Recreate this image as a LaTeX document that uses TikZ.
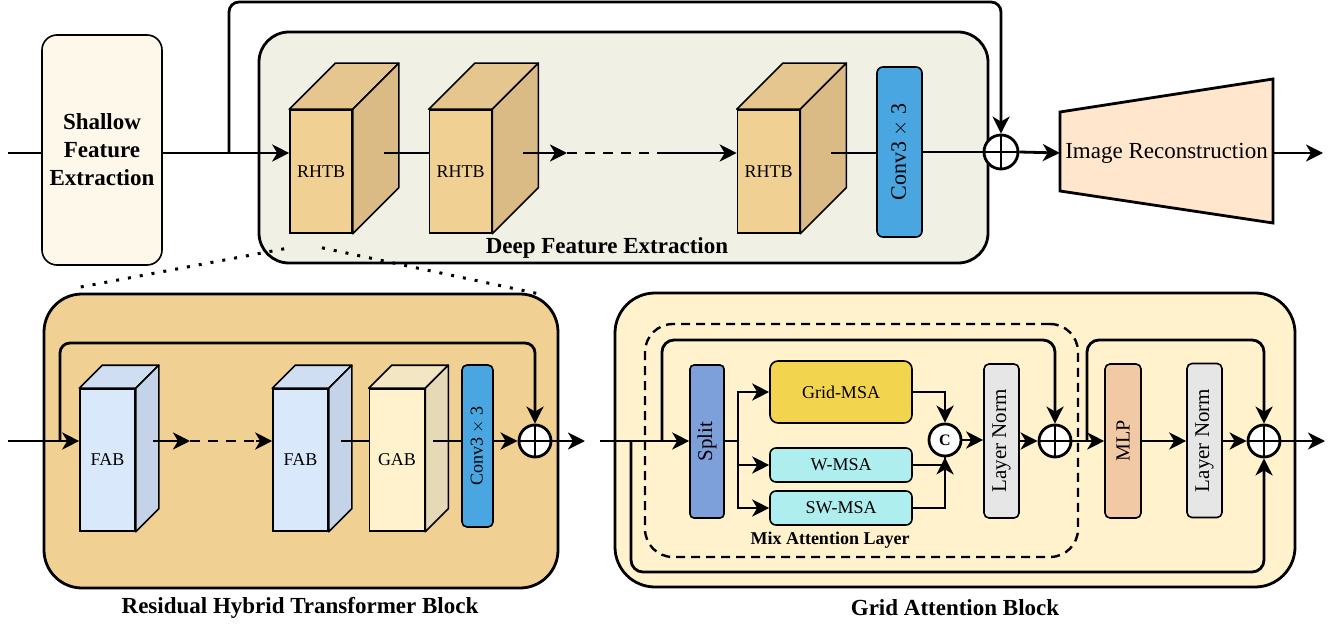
\documentclass[tikz,border=0pt]{standalone}
\usepackage{fontspec}
\setmainfont{Liberation Serif}
\usepackage{tikz}
\usetikzlibrary{calc, arrows.meta}

\definecolor{sfeFill}{HTML}{FEF8EA}
\definecolor{dfeFill}{HTML}{F0F0E4}
\definecolor{rhtbFront}{HTML}{F0D093}
\definecolor{rhtbTop}{HTML}{E5C68E}
\definecolor{rhtbSide}{HTML}{DBBB85}
\definecolor{convFill}{HTML}{4AA6E0}
\definecolor{reconFill}{HTML}{FFE6CC}
\definecolor{fabFront}{HTML}{DAE8FC}
\definecolor{fabTop}{HTML}{D0DEF4}
\definecolor{fabSide}{HTML}{C5D3E8}
\definecolor{gabFront}{HTML}{FFF2CC}
\definecolor{gabTop}{HTML}{F3E6C2}
\definecolor{gabSide}{HTML}{E6D9B8}
\definecolor{gridFill}{HTML}{FFF2CC}
\definecolor{splitFill}{HTML}{7EA0DA}
\definecolor{gmsaFill}{HTML}{F2D44F}
\definecolor{wmsaFill}{HTML}{AEEEEE}
\definecolor{lnFill}{HTML}{E6E6E6}
\definecolor{mlpFill}{HTML}{F2C9A5}

\tikzset{
  wire/.style={line width=2.8pt},
  arr/.style={line width=2.8pt, -{Stealth[length=17pt,width=17pt,inset=5pt]}},
  group/.style={draw, line width=2.8pt, inner sep=0pt},
  face/.style={draw, line width=1.6pt, inner sep=0pt},
  block/.style={draw, line width=1.6pt, rounded corners=5pt, inner sep=0pt},
  oplus/.style={circle, draw, fill=white, line width=2.8pt, minimum size=34pt, inner sep=0pt,
    path picture={\draw[line width=2.2pt] (path picture bounding box.north) -- (path picture bounding box.south)
      (path picture bounding box.west) -- (path picture bounding box.east);}},
  dotline/.style={line width=3pt, dash pattern=on 3pt off 9pt},
  lbl/.style={font=\fontsize{23}{28}\selectfont\bfseries},
  txt/.style={font=\fontsize{18}{22}\selectfont},
  vtxt/.style={font=\fontsize{21}{24}\selectfont}
}

% top and side faces of a block drawn as a cuboid
\newcommand{\cubefaces}[4]{%
  \filldraw[fill=#3, line width=1.6pt, line join=round] (#1.north west) -- ++(#2,-#2)
    -- ($(#1.north east)+(#2,-#2)$) -- (#1.north east) -- cycle;
  \filldraw[fill=#4, line width=1.6pt, line join=round] (#1.north east) -- ++(#2,-#2)
    -- ($(#1.south east)+(#2,-#2)$) -- (#1.south east) -- cycle;
}

\begin{document}
\begin{tikzpicture}[x=1pt,y=-1pt]
  \useasboundingbox (0,0) rectangle (1335,628);
  \coordinate (lvl) at (0,153);
  \coordinate (lvlb) at (0,441);

  % top row
  \node[block, fill=sfeFill, rounded corners=15pt, minimum width=120pt, minimum height=230pt,
    lbl, align=center] (sfe) at (102,150) {Shallow\\Feature\\Extraction};
  \node[group, fill=dfeFill, rounded corners=30pt, minimum width=729pt, minimum height=231pt] (dfe) at (623.5,147.5) {};
  \node[lbl] (dfelbl) at (607,248) {Deep Feature Extraction};

  \foreach \name/\x in {rhtb1/321, rhtb2/460.5, rhtb3/768.5}{
    \node[face, fill=rhtbFront, minimum width=62pt, minimum height=123pt, txt] (\name) at (\x,171.5) {RHTB};
    \cubefaces{\name}{46}{rhtbTop}{rhtbSide}
  }
  \node[block, fill=convFill, rounded corners=6pt, minimum width=45pt, minimum height=170pt,
    font=\fontsize{22}{24}\selectfont] (conv1) at (899.5,152) {\rotatebox{90}{Conv3 $\times$ 3}};
  \node[oplus] (op1) at (1001,152) {};

  \filldraw[fill=reconFill, line width=2.8pt, line join=miter] (1060,112) -- (1273,79) -- (1273,223) -- (1060,191) -- cycle;
  \node[minimum width=213pt, inner sep=0pt, font=\fontsize{23}{26}\selectfont] (recon) at (1166.5,153) {Image Reconstruction};

  \coordinate (in1) at (8,153);
  \coordinate (s1) at (229,153);
  \coordinate (dl1) at (567,153);
  \coordinate (dl2) at (658,153);
  \coordinate (out1) at (1323,153);
  \draw[wire] (in1) -- (sfe.west |- lvl);
  \draw[arr] (sfe.east |- lvl) -- (rhtb1.west |- lvl);
  \draw[arr, rounded corners=10pt] (s1) -- (s1 |- 0,2) -| (op1.north);
  \draw[wire] ($(rhtb1.east |- lvl)+(31,0)$) -- (rhtb2.west |- lvl);
  \draw[arr] ($(rhtb2.east |- lvl)+(31,0)$) -- (dl1);
  \draw[wire, dash pattern=on 10pt off 8pt] (dl1) -- (dl2);
  \draw[arr] (dl2) -- (rhtb3.west |- lvl);
  \draw[wire] ($(rhtb3.east |- lvl)+(31,0)$) -- (conv1.west |- lvl);
  \draw[wire] (conv1.east |- op1) -- (op1.west);
  \draw[arr] (op1.east) -- (recon.west);
  \draw[arr] (recon.east) -- (out1);

  % residual hybrid transformer block
  \node[group, fill=rhtbFront, rounded corners=38pt, minimum width=514pt, minimum height=294pt] (rhtbblk) at (301,441) {};
  \node[lbl] (rhtblbl) at (300,608) {Residual Hybrid Transformer Block};
  \foreach \name/\x/\f/\t/\s/\word in {fab1/107.5/fabFront/fabTop/fabSide/FAB, fab2/300.5/fabFront/fabTop/fabSide/FAB,
      gab/397/gabFront/gabTop/gabSide/GAB}{
    \node[face, fill=\f, minimum width=55pt, minimum height=142pt, txt] (\name) at (\x,460) {\word};
    \cubefaces{\name}{23}{\t}{\s}
  }
  \node[block, fill=convFill, minimum width=31pt, minimum height=162pt, txt] (conv2) at (477.5,446) {\rotatebox{90}{Conv3 $\times$ 3}};
  \node[oplus, minimum size=32pt] (op2) at (535,441) {};

  \draw[dotline] ($(rhtb1.south west)+(-5,15)$) -- ($(rhtbblk.north west)+(35,-5)$);
  \draw[dotline] ($(rhtb1.south)+(1,14)$) -- ($(rhtbblk.north east)+(-17,2)$);

  \coordinate (in2) at (8,441);
  \coordinate (s2) at (60,441);
  \coordinate (dl3) at (190,441);
  \coordinate (dl4) at (256,441);
  \coordinate (out2) at (585,441);
  \draw[arr] (in2) -- (fab1.west |- lvlb);
  \draw[arr, rounded corners=10pt] (s2) -- (s2 |- 0,343) -| (op2.north);
  \draw[arr] ($(fab1.east |- lvlb)+(17,0)$) -- (dl3);
  \draw[wire, dash pattern=on 10pt off 8pt] (dl3) -- (dl4);
  \draw[arr] (dl4) -- (fab2.west |- lvlb);
  \draw[wire] ($(fab2.east |- lvlb)+(12,0)$) -- (gab.west |- lvlb);
  \draw[wire] ($(gab.east |- lvlb)+(8,0)$) -- (conv2.west |- lvlb);
  \draw[arr] (conv2.east |- lvlb) -- (op2.west);
  \draw[arr] (op2.east) -- (out2);

  % grid attention block
  \node[group, fill=gridFill, rounded corners=40pt, minimum width=680pt, minimum height=294pt] (gablk) at (955,440) {};
  \node[lbl] (gablbl) at (955,608) {Grid Attention Block};
  \node[draw, line width=2.4pt, dash pattern=on 9pt off 6pt, rounded corners=28pt, minimum width=433pt,
    minimum height=233pt] (mal) at (861.5,440.5) {};
  \node[font=\fontsize{18}{22}\selectfont\bfseries] (mallbl) at (830,540) {Mix Attention Layer};

  \node[block, fill=splitFill, rounded corners=4pt, minimum width=34pt, minimum height=153pt, vtxt] (split) at (707,441.5) {\rotatebox{90}{Split}};
  \node[block, fill=gmsaFill, rounded corners=8pt, minimum width=142pt, minimum height=62pt, txt] (gmsa) at (841,392) {Grid-MSA};
  \node[block, fill=wmsaFill, rounded corners=6pt, minimum width=142pt, minimum height=34pt, txt] (wmsa) at (841,465) {W-MSA};
  \node[block, fill=wmsaFill, rounded corners=6pt, minimum width=142pt, minimum height=34pt, txt] (swmsa) at (841,508) {SW-MSA};
  \node[circle, draw, fill=white, line width=2.8pt, minimum size=32pt, inner sep=0pt,
    font=\fontsize{16}{16}\selectfont\bfseries] (cat) at (945,440) {C};
  \node[block, fill=lnFill, minimum width=35pt, minimum height=154pt, vtxt] (ln1) at (1001.5,441) {\rotatebox{90}{Layer Norm}};
  \node[oplus, minimum size=32pt] (op3) at (1055,441) {};
  \node[block, fill=mlpFill, minimum width=36pt, minimum height=154pt, font=\fontsize{20}{22}\selectfont] (mlp) at (1123,441) {\rotatebox{90}{MLP}};
  \node[block, fill=lnFill, minimum width=35pt, minimum height=154pt, vtxt] (ln2) at (1204.5,440.5) {\rotatebox{90}{Layer Norm}};
  \node[oplus, minimum size=32pt] (op4) at (1264,441) {};

  \coordinate (in3) at (600,441);
  \coordinate (br) at (738,441);
  \coordinate (sA) at (662,441);
  \coordinate (sB) at (631,441);
  \coordinate (sC) at (1087,441);
  \coordinate (out3) at (1325,441);
  \draw[arr] (in3) -- (split.west |- lvlb);
  \draw[wire] (split.east |- lvlb) -- (br);
  \draw[arr] (br) |- (gmsa.west);
  \draw[arr] (br) |- (wmsa.west);
  \draw[arr] (br) |- (swmsa.west);
  \draw[arr] (gmsa.east) -| (cat.north);
  \draw[wire] (wmsa.east) -| (cat.south);
  \draw[arr] (swmsa.east) -| (cat.south);
  \draw[arr] (cat.east) -- (ln1.west |- cat);
  \draw[arr] (ln1.east |- lvlb) -- (op3.west);
  \draw[arr] (op3.east) -- (mlp.west |- lvlb);
  \draw[arr] (mlp.east |- lvlb) -- (ln2.west |- lvlb);
  \draw[arr] (ln2.east |- lvlb) -- (op4.west);
  \draw[arr] (op4.east) -- (out3);
  \draw[arr, rounded corners=12pt] (sA) -- (sA |- 0,340) -| (op3.north);
  \draw[arr, rounded corners=12pt] (sB) -- (sB |- 0,572) -| (op4.south);
  \draw[arr, rounded corners=12pt] (sC) -- (sC |- 0,340) -| (op4.north);
\end{tikzpicture}
\end{document}
